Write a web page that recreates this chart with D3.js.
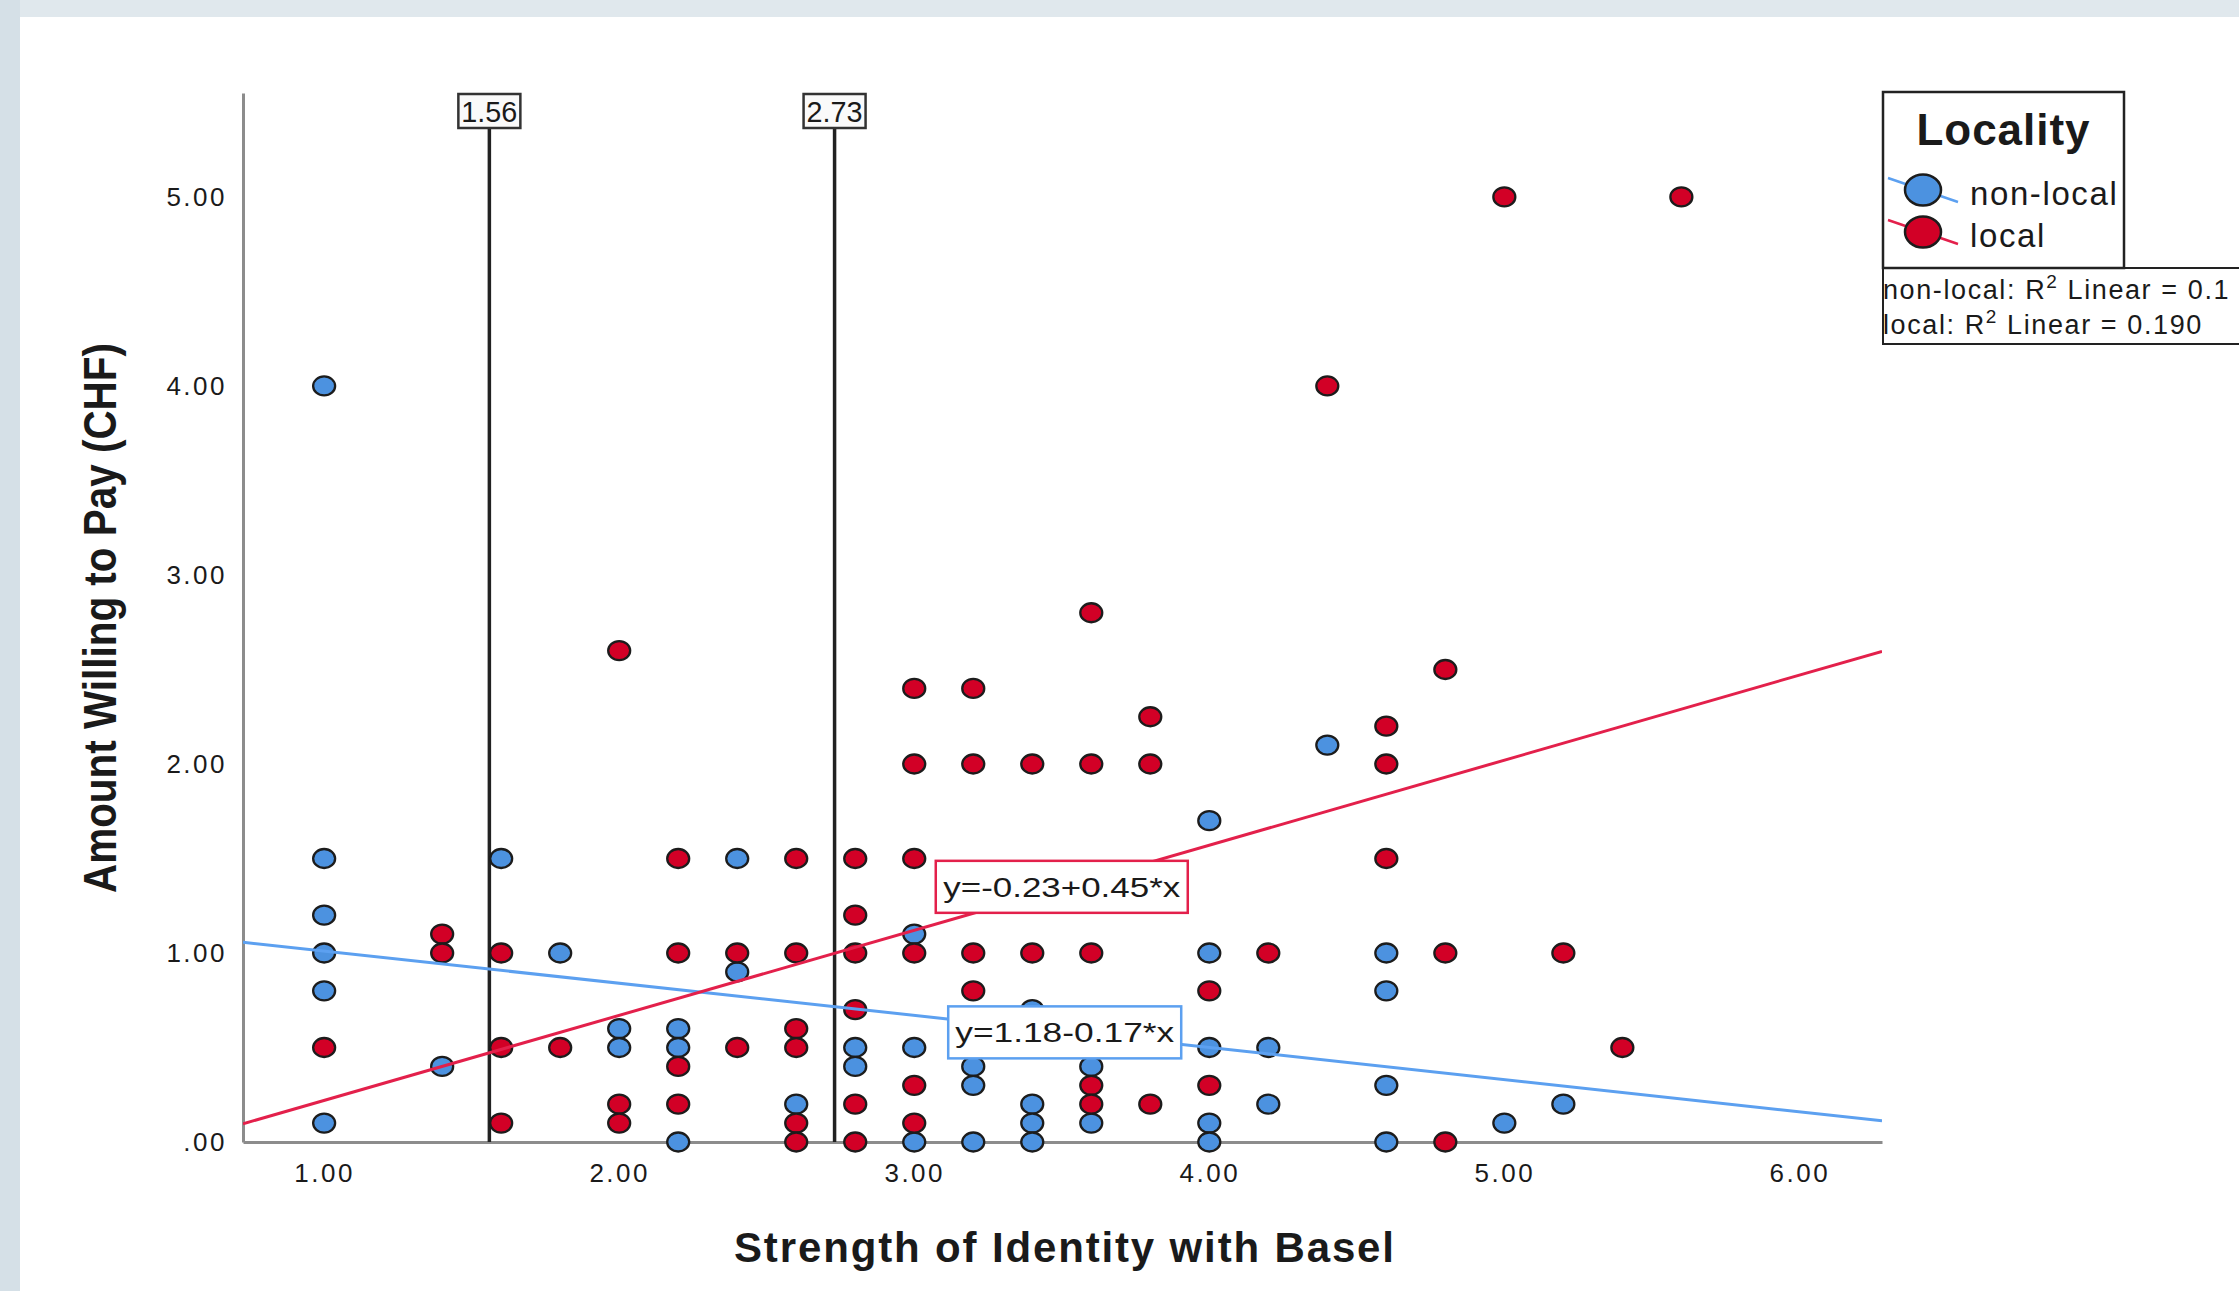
<!DOCTYPE html>
<html>
<head>
<meta charset="utf-8">
<script src="https://cdn.jsdelivr.net/npm/d3@7"></script>
<style>
  body { margin: 0; background: #e0e8ed; }
  svg { display: block; }
  text { font-family: "Liberation Sans", Arial, sans-serif; fill: #1a1a1a; }
</style>
</head>
<body>
<svg id="chart" width="2239" height="1291"></svg>
<script>
// 数据: [Strength of Identity, Amount Willing to Pay]
const nonLocal = [
  [1.0, 4.0], [1.0, 1.5], [1.0, 1.2], [1.0, 1.0], [1.0, 0.8], [1.0, 0.1],
  [1.4, 0.4], [1.6, 1.5], [1.8, 1.0],
  [2.0, 0.6], [2.0, 0.5], [2.2, 0.6], [2.2, 0.5], [2.2, 0.0],
  [2.4, 1.5], [2.4, 0.9], [2.6, 0.2], [2.8, 0.5], [2.8, 0.4],
  [3.0, 1.1], [3.0, 0.5], [3.0, 0.0], [3.2, 0.4], [3.2, 0.3], [3.2, 0.0],
  [3.4, 0.7], [3.4, 0.2], [3.4, 0.1], [3.4, 0.0], [3.6, 0.4], [3.6, 0.1],
  [4.0, 1.7], [4.0, 1.0], [4.0, 0.5], [4.0, 0.1], [4.0, 0.0],
  [4.2, 0.5], [4.2, 0.2], [4.4, 2.1],
  [4.6, 1.0], [4.6, 0.8], [4.6, 0.3], [4.6, 0.0],
  [5.0, 0.1], [5.2, 0.2]
];
const local = [
  [1.0, 0.5], [1.4, 1.1], [1.4, 1.0], [1.6, 1.0], [1.6, 0.5], [1.6, 0.1],
  [1.8, 0.5], [2.0, 2.6], [2.0, 0.2], [2.0, 0.1],
  [2.2, 1.5], [2.2, 1.0], [2.2, 0.4], [2.2, 0.2], [2.4, 1.0], [2.4, 0.5],
  [2.6, 1.5], [2.6, 1.0], [2.6, 0.6], [2.6, 0.5], [2.6, 0.1], [2.6, 0.0],
  [2.8, 1.5], [2.8, 1.2], [2.8, 1.0], [2.8, 0.7], [2.8, 0.2], [2.8, 0.0],
  [3.0, 2.4], [3.0, 2.0], [3.0, 1.5], [3.0, 1.0], [3.0, 0.3], [3.0, 0.1],
  [3.2, 2.4], [3.2, 2.0], [3.2, 1.0], [3.2, 0.8], [3.4, 2.0], [3.4, 1.0],
  [3.6, 2.8], [3.6, 2.0], [3.6, 1.0], [3.6, 0.3], [3.6, 0.2],
  [3.8, 2.25], [3.8, 2.0], [3.8, 0.2], [4.0, 0.8], [4.0, 0.3],
  [4.2, 1.0], [4.4, 4.0], [4.6, 2.2], [4.6, 2.0], [4.6, 1.5],
  [4.8, 2.5], [4.8, 1.0], [4.8, 0.0], [5.0, 5.0], [5.2, 1.0], [5.4, 0.5], [5.6, 5.0]
];

// 分组, 颜色, 回归系数 (截距, 斜率)
const groups = ["non-local", "local"];
const fillColors = ["#4c92e0", "#d20026"];
const lineColors = ["#5ca0f0", "#e3204b"];
const fitCoef = [[1.18, -0.17], [-0.23, 0.45]];
const eqLabels = ["y=1.18-0.17*x", "y=-0.23+0.45*x"];
const eqPos = [[3.51, 0.58], [3.5, 1.35]];
const r2Labels = ["non-local: R² Linear = 0.1", "local: R² Linear = 0.190"];

// 参考线 (均值)
const refLines = [1.56, 2.73];

const xTicks = [1, 2, 3, 4, 5, 6];
const yTicks = [0, 1, 2, 3, 4, 5];

const svg = d3.select("#chart");

// 背景
svg.append("rect").attr("x", 0).attr("y", 0).attr("width", 20).attr("height", 1291).attr("fill", "#d5e0e7");
svg.append("rect").attr("x", 20).attr("y", 17).attr("width", 2219).attr("height", 1274).attr("fill", "#ffffff");

const x = d3.scaleLinear().domain([0.725, 6.28]).range([243, 1882]);
const y = d3.scaleLinear().domain([0, 5.55]).range([1142, 93]);

svg.append("clipPath").attr("id", "plotClip")
  .append("rect")
  .attr("x", x.range()[0]).attr("y", y.range()[1])
  .attr("width", x.range()[1] - x.range()[0])
  .attr("height", y.range()[0] - y.range()[1]);

// 坐标轴
const fmt = d => d === 0 ? ".00" : d.toFixed(2);

const yAxis = svg.append("g")
  .attr("transform", `translate(${x.range()[0]},0)`)
  .call(d3.axisLeft(y).tickValues(yTicks).tickFormat(fmt).tickSize(0).tickPadding(16));

const xAxis = svg.append("g")
  .attr("transform", `translate(0,${y.range()[0]})`)
  .call(d3.axisBottom(x).tickValues(xTicks).tickFormat(fmt).tickSize(0).tickPadding(22));

[xAxis, yAxis].forEach(a => {
  a.select(".domain").attr("stroke", "#8c8c8c").attr("stroke-width", 3);
  a.selectAll("text")
    .attr("font-size", "26px")
    .attr("letter-spacing", "2.5px")
    .attr("fill", "#222")
    .style("font-family", "'Liberation Sans', Arial, sans-serif");
});

// 轴标题
svg.append("text")
  .attr("transform", `translate(116,618) rotate(-90)`)
  .attr("text-anchor", "middle")
  .attr("font-size", "46px")
  .attr("font-weight", "bold")
  .attr("textLength", 550)
  .attr("lengthAdjust", "spacingAndGlyphs")
  .text("Amount Willing to Pay (CHF)");

svg.append("text")
  .attr("x", 1064).attr("y", 1262)
  .attr("text-anchor", "middle")
  .attr("font-size", "42px")
  .attr("font-weight", "bold")
  .attr("textLength", 660)
  .attr("lengthAdjust", "spacing")
  .text("Strength of Identity with Basel");

// 参考线
const refG = svg.selectAll("g.ref")
  .data(refLines)
  .enter()
  .append("g")
  .attr("class", "ref");

refG.append("line")
  .attr("x1", d => x(d)).attr("x2", d => x(d))
  .attr("y1", y(0)).attr("y2", 128)
  .attr("stroke", "#222")
  .attr("stroke-width", 3.5);

refG.append("rect")
  .attr("x", d => x(d) - 31).attr("y", 94)
  .attr("width", 62).attr("height", 34)
  .attr("fill", "#fafafa")
  .attr("stroke", "#333")
  .attr("stroke-width", 2.5);

refG.append("text")
  .attr("x", d => x(d)).attr("y", 122)
  .attr("text-anchor", "middle")
  .attr("font-size", "29px")
  .attr("textLength", 56)
  .attr("lengthAdjust", "spacingAndGlyphs")
  .text(d => d.toFixed(2));

// 散点
[nonLocal, local].forEach((pts, gi) => {
  svg.append("g")
    .selectAll("ellipse")
    .data(pts)
    .enter()
    .append("ellipse")
    .attr("cx", d => x(d[0]))
    .attr("cy", d => y(d[1]))
    .attr("rx", 11)
    .attr("ry", 9.5)
    .attr("fill", fillColors[gi])
    .attr("stroke", "#1c1c1c")
    .attr("stroke-width", 2.3);
});

// 回归线
const xDom = x.domain();
svg.append("g")
  .attr("clip-path", "url(#plotClip)")
  .selectAll("line")
  .data(fitCoef)
  .enter()
  .append("line")
  .attr("x1", x(xDom[0]))
  .attr("y1", d => y(d[0] + d[1] * xDom[0]))
  .attr("x2", x(xDom[1]))
  .attr("y2", d => y(d[0] + d[1] * xDom[1]))
  .attr("stroke", (d, i) => lineColors[i])
  .attr("stroke-width", 3);

// 方程标签
const eqW = [233, 252];
const eqTextW = [219, 237];
const eqG = svg.selectAll("g.eq")
  .data(eqLabels)
  .enter()
  .append("g")
  .attr("class", "eq")
  .attr("transform", (d, i) => `translate(${x(eqPos[i][0])},${y(eqPos[i][1])})`);

eqG.append("rect")
  .attr("x", (d, i) => -eqW[i] / 2).attr("y", -26)
  .attr("width", (d, i) => eqW[i]).attr("height", 52)
  .attr("fill", "#ffffff")
  .attr("stroke", (d, i) => lineColors[i])
  .attr("stroke-width", 2.5);

eqG.append("text")
  .attr("x", 0).attr("y", 10)
  .attr("text-anchor", "middle")
  .attr("font-size", "27px")
  .attr("fill", "#222")
  .attr("textLength", (d, i) => eqTextW[i])
  .attr("lengthAdjust", "spacingAndGlyphs")
  .text(d => d);

// 图例
const leg = svg.append("g");
leg.append("rect")
  .attr("x", 1883).attr("y", 268).attr("width", 420).attr("height", 76)
  .attr("fill", "#ffffff").attr("stroke", "#222").attr("stroke-width", 2);
leg.append("rect")
  .attr("x", 1883).attr("y", 92).attr("width", 241).attr("height", 176)
  .attr("fill", "#ffffff").attr("stroke", "#222").attr("stroke-width", 2.5);

leg.append("text")
  .attr("x", 2003).attr("y", 145)
  .attr("text-anchor", "middle")
  .attr("font-size", "44px")
  .attr("font-weight", "bold")
  .attr("textLength", 173)
  .attr("lengthAdjust", "spacing")
  .text("Locality");

const items = leg.selectAll("g.item")
  .data(groups)
  .enter()
  .append("g")
  .attr("class", "item")
  .attr("transform", (d, i) => `translate(1923,${190 + i * 42})`);

items.append("line")
  .attr("x1", -35).attr("y1", -12).attr("x2", 35).attr("y2", 12)
  .attr("stroke", (d, i) => lineColors[i])
  .attr("stroke-width", 2.5);

items.append("ellipse")
  .attr("rx", 18).attr("ry", 15.5)
  .attr("fill", (d, i) => fillColors[i])
  .attr("stroke", "#1c1c1c")
  .attr("stroke-width", 2.5);

items.append("text")
  .attr("x", 47).attr("y", 15)
  .attr("font-size", "33px")
  .attr("letter-spacing", "1.6px")
  .text(d => d);

// R² 文本
const r2 = leg.selectAll("text.r2")
  .data(r2Labels)
  .enter()
  .append("text")
  .attr("class", "r2")
  .attr("x", 1883)
  .attr("y", (d, i) => 299 + i * 35)
  .attr("font-size", "27px")
  .attr("letter-spacing", "1.6px");

r2.each(function (d) {
  const parts = d.split("²");
  const t = d3.select(this);
  t.append("tspan").text(parts[0]);
  t.append("tspan").attr("dy", -11).attr("font-size", "19px").text("2");
  t.append("tspan").attr("dy", 11).text(parts[1]);
});
</script>
</body>
</html>
